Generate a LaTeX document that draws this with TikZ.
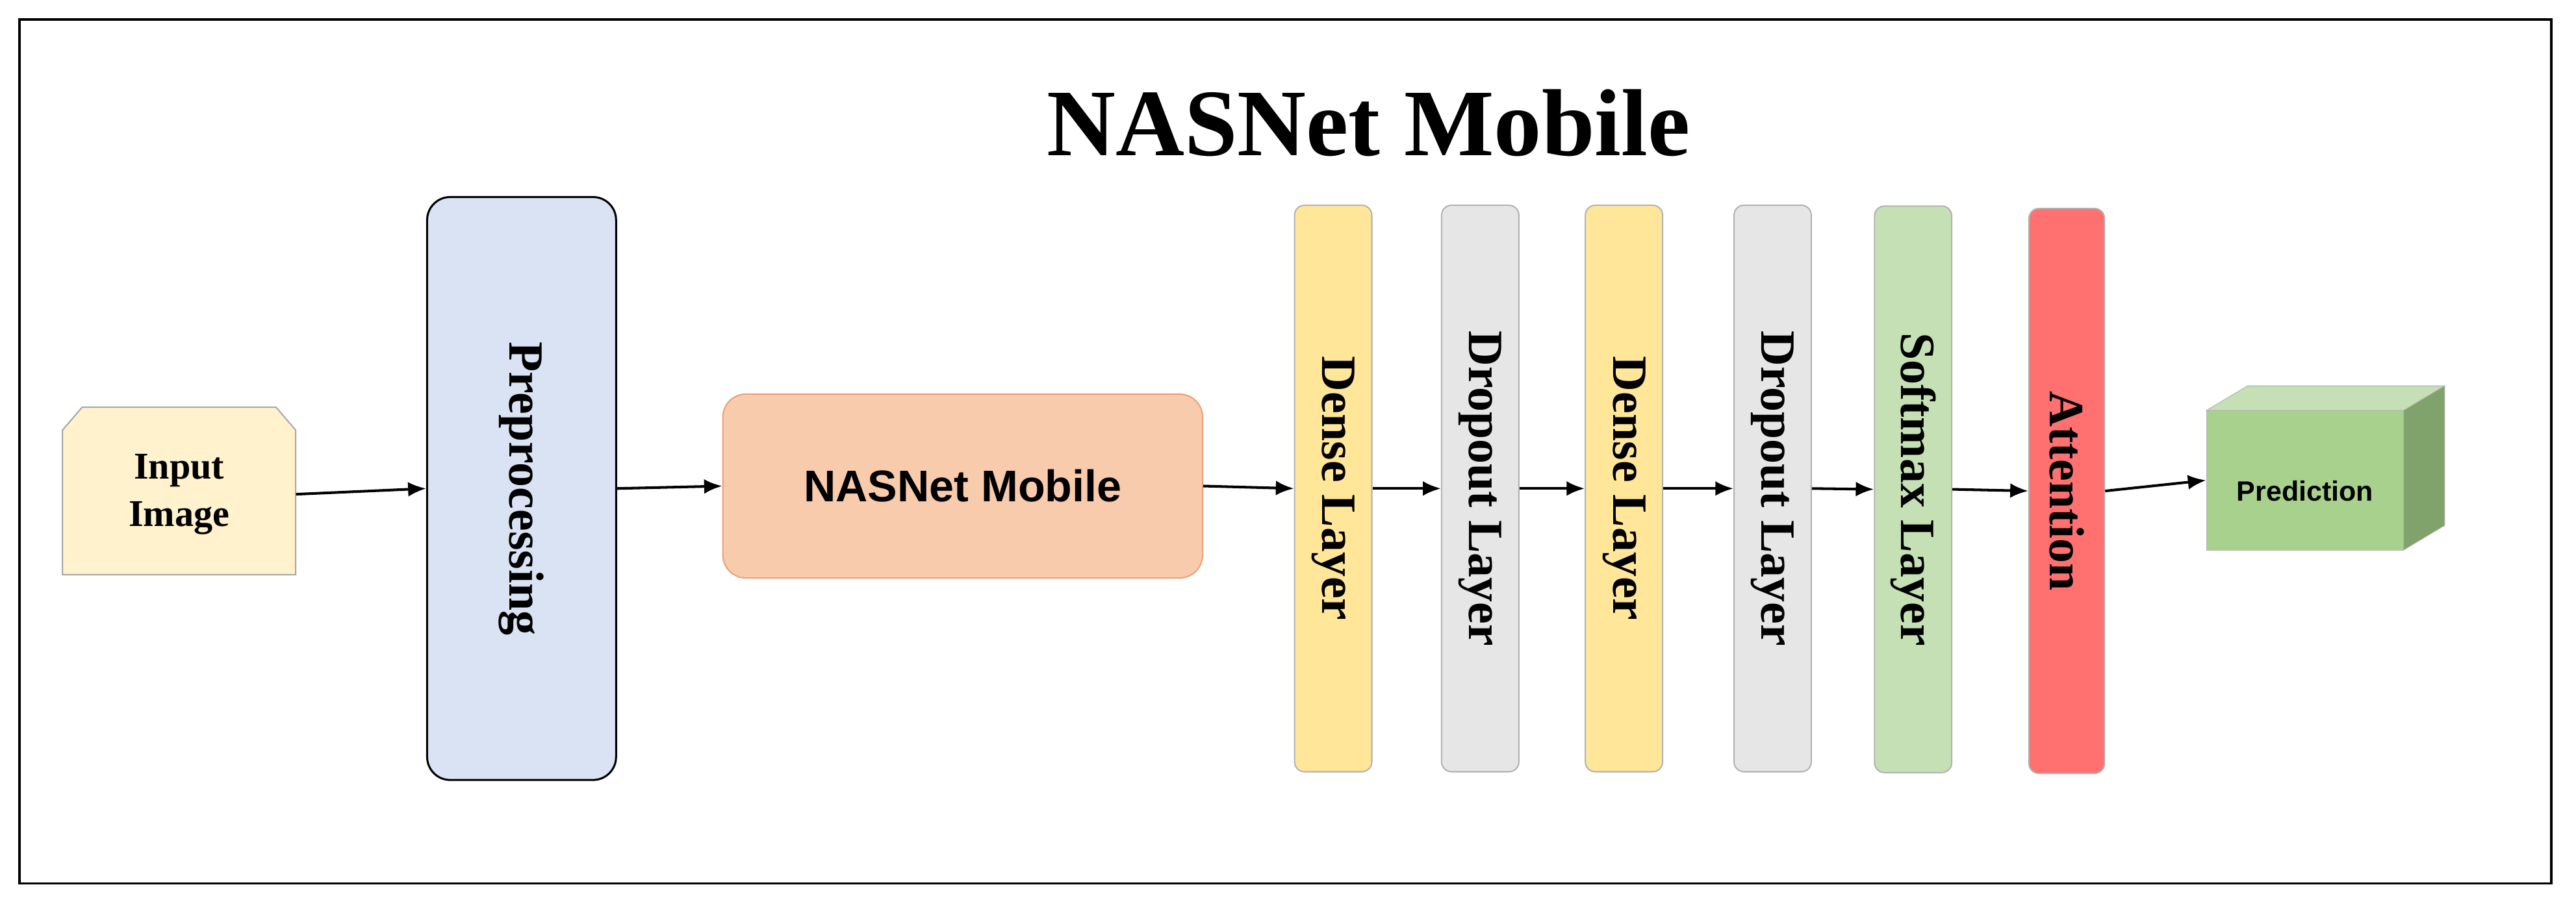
\documentclass[tikz,border=0pt]{standalone}
\usepackage{fontspec}
\usetikzlibrary{arrows.meta}
\setmainfont{Liberation Serif}
\newfontfamily\arialf{Liberation Sans}
\begin{document}
\begin{tikzpicture}[x=1pt,y=-1pt,
  lay/.style={draw=gray!60,rounded corners=6pt,minimum width=47pt,minimum height=345pt,line width=0.8pt},
  lbl/.style={rotate=-90,font=\fontsize{30}{32}\selectfont\bfseries},
  arr/.style={-{Latex[length=11pt,width=9pt]},line width=1.6pt}]
\useasboundingbox (0,0) rectangle (1568,548);
\draw[line width=1.5pt] (12,12) rectangle (1553,538);
\node[font=\fontsize{58}{62}\selectfont\bfseries] (title) at (833,75) {NASNet Mobile};
% input image
\draw[draw=gray!70,line width=0.8pt,fill={rgb,255:red,255;green,242;blue,204}]
  (38,262)--(50,248)--(168,248)--(180,262)--(180,350)--(38,350)--cycle;
\node[font=\fontsize{23}{29}\selectfont\bfseries,align=center,minimum width=142pt,minimum height=102pt] (in) at (109,301) {Input\\Image};
\node[draw,line width=1.2pt,rounded corners=14pt,fill={rgb,255:red,218;green,227;blue,243},minimum width=115pt,minimum height=355pt] (pre) at (317.5,297.5) {};
\node[lbl] at (pre) {Preprocessing};
\node[draw={rgb,255:red,234;green,160;blue,120},line width=0.8pt,rounded corners=14pt,fill={rgb,255:red,248;green,203;blue,173},minimum width=292pt,minimum height=112pt,font=\arialf\fontsize{27}{30}\selectfont\bfseries] (nas) at (586,296) {NASNet Mobile};
\node[lay,fill={rgb,255:red,255;green,230;blue,153}] (d1) at (811.5,297.5) {};
\node[lbl] at (d1) {Dense Layer};
\node[lay,fill={rgb,255:red,231;green,230;blue,230}] (o1) at (901,297.5) {};
\node[lbl] at (o1) {Dropout Layer};
\node[lay,fill={rgb,255:red,255;green,230;blue,153}] (d2) at (988.5,297.5) {};
\node[lbl] at (d2) {Dense Layer};
\node[lay,fill={rgb,255:red,231;green,230;blue,230}] (o2) at (1079,297.5) {};
\node[lbl] at (o2) {Dropout Layer};
\node[lay,fill={rgb,255:red,197;green,224;blue,180}] (sm) at (1164.5,298) {};
\node[lbl] at (sm) {Softmax Layer};
\node[lay,fill={rgb,255:red,255;green,112;blue,112},minimum width=46pt,minimum height=344pt] (att) at (1258,299) {};
\node[lbl] at (att) {Attention};
% prediction cube
\draw[draw=gray!60,fill={rgb,255:red,197;green,224;blue,180}] (1343,250)--(1368,235)--(1488,235)--(1463,250)--cycle;
\draw[draw=gray!60,fill={rgb,255:red,127;green,163;blue,106}] (1463,250)--(1488,235)--(1488,320)--(1463,335)--cycle;
\node[draw=gray!60,fill={rgb,255:red,169;green,209;blue,142},minimum width=120pt,minimum height=85pt,inner sep=0pt] (pred) at (1403,292.5) {};
\node[font=\arialf\fontsize{17}{20}\selectfont\bfseries] at (1403,299) {Prediction};
\draw[arr] (in.east) -- (pre.west);
\draw[arr] (pre.east) -- (nas.west);
\draw[arr] (nas.east) -- (d1.west);
\draw[arr] (d1.east) -- (o1.west);
\draw[arr] (o1.east) -- (d2.west);
\draw[arr] (d2.east) -- (o2.west);
\draw[arr] (o2.east) -- (sm.west);
\draw[arr] (sm.east) -- (att.west);
\draw[arr] (att.east) -- (pred.west);
\end{tikzpicture}
\end{document}
